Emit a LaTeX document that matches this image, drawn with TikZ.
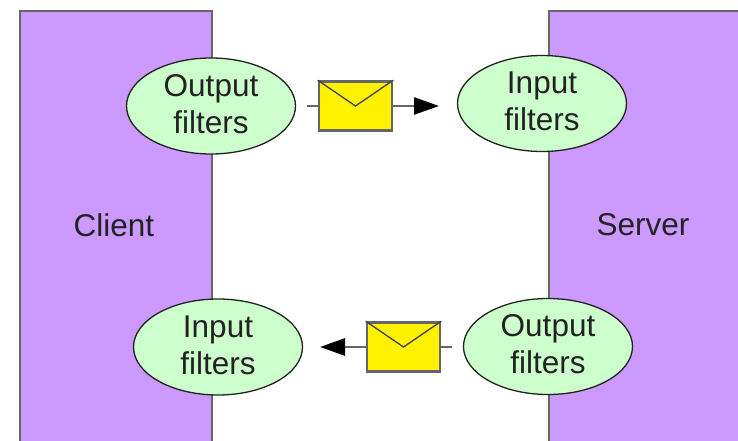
\documentclass[tikz,border=0pt]{standalone}
\usepackage{fontspec}
\setmainfont{Liberation Sans}
\usetikzlibrary{shapes.geometric,arrows.meta}
\definecolor{panelfill}{HTML}{CC99FF}
\definecolor{filterfill}{HTML}{CCFFCC}
\definecolor{edgegrey}{HTML}{666666}
\definecolor{inkdark}{HTML}{222222}
\tikzset{
  x=1pt,y=-1pt,
  panel/.style={draw=edgegrey,line width=2.4pt,fill=panelfill,rectangle,inner sep=0pt,anchor=north west},
  filter/.style={ellipse,draw=inkdark,line width=1.3pt,fill=filterfill,inner sep=0pt,
    minimum width=169pt,minimum height=96pt,align=center,text=inkdark,
    font=\fontsize{31.5}{37}\selectfont,
    execute at end node={\rule[-4.5pt]{0pt}{4.5pt}}},
  tag/.style={text=inkdark,font=\fontsize{31.5}{36}\selectfont,inner sep=0pt},
  envelope/.style={rectangle,draw=edgegrey,line width=2.6pt,fill=yellow,inner sep=0pt,
    minimum width=73pt,minimum height=49pt},
  flap/.style={draw=black!75,line width=1.3pt},
  flow/.style={draw=edgegrey,line width=2.6pt},
  flowhead/.style={flow,-{Triangle[length=25pt,width=17pt,color=black]}},
}
\begin{document}
\begin{tikzpicture}
\useasboundingbox (0,0) rectangle (738,441);
\clip (0,0) rectangle (738,441);
\node[panel,minimum width=191.5pt,minimum height=440pt] (clientpanel) at (19,10) {};
\node[panel,minimum width=200pt,minimum height=440pt] (serverpanel) at (548,10) {};
\node[tag] (clientlabel) at (114,225) {Client};
\node[tag] (serverlabel) at (643,225) {Server};
\node[filter] (outa) at (211,106) {Output\\filters};
\node[filter] (ina) at (542,103.5) {Input\\filters};
\node[filter] (inb) at (218,347) {Input\\filters};
\node[filter] (outb) at (548,346.5) {Output\\filters};
\coordinate (astart) at (307,106);
\coordinate (aend) at (439,106);
\coordinate (bstart) at (452,347);
\coordinate (bend) at (320,347);
\node[envelope] (enva) at (355.5,106) {};
\node[envelope] (envb) at (403.5,347) {};
\draw[flap] (enva.north west) -- (enva.center) -- (enva.north east);
\draw[flap] (envb.north west) -- (envb.center) -- (envb.north east);
\draw[flow] (astart) -- (enva.west);
\draw[flowhead] (enva.east) -- (aend);
\draw[flow] (bstart) -- (envb.east);
\draw[flowhead] (envb.west) -- (bend);
\end{tikzpicture}
\end{document}
